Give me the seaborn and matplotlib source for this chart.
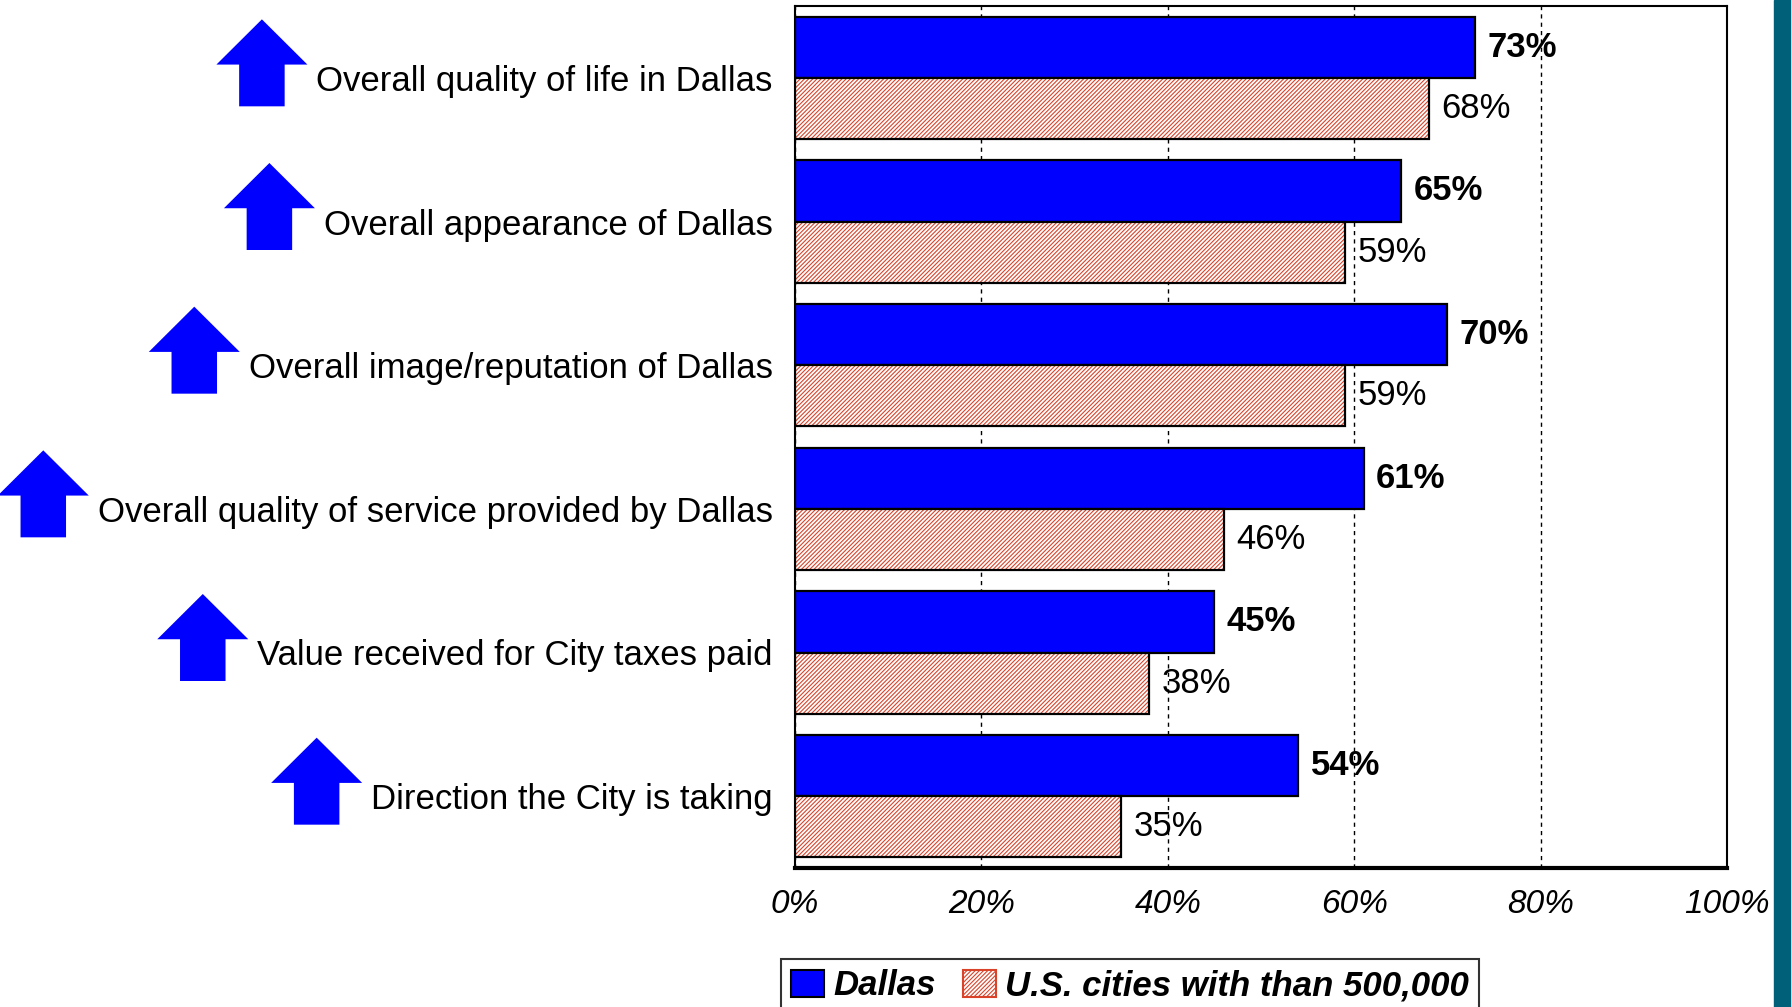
import numpy as np
import pandas as pd
import matplotlib
matplotlib.use("Agg")
import matplotlib.pyplot as plt
from matplotlib.patches import Polygon, Patch, Rectangle
import seaborn as sns

# Survey items and the share of favourable ratings (percent)
items = [
    "Overall quality of life in Dallas",
    "Overall appearance of Dallas",
    "Overall image/reputation of Dallas",
    "Overall quality of service provided by Dallas",
    "Value received for City taxes paid",
    "Direction the City is taking",
]
dallas = [73, 65, 70, 61, 45, 54]
us_large = [68, 59, 59, 46, 38, 35]
series = ["Dallas", "U.S. cities with than 500,000"]
x_ticks = [0, 20, 40, 60, 80, 100]

df = pd.DataFrame({
    "item": items * 2,
    "pct": dallas + us_large,
    "group": [series[0]] * len(items) + [series[1]] * len(items),
})

sns.set_theme(style="white")
plt.rcParams["font.family"] = ["Liberation Sans", "DejaVu Sans"]
plt.rcParams["hatch.linewidth"] = 0.8
for key in ("text.color", "xtick.color", "ytick.color", "axes.labelcolor"):
    plt.rcParams[key] = "black"

BLUE = "#0000ff"
HATCH = "#d8432a"
TEAL = "#005f79"
HATCH_PATTERN = "////////"

W, H = 1791, 1007
fig = plt.figure(figsize=(W / 100, H / 100), dpi=100)
fig.patch.set_facecolor("white")
ax = fig.add_axes([795 / W, 1 - 868 / H, (1727 - 795) / W, (868 - 6) / H])

sns.barplot(
    data=df, y="item", x="pct", hue="group", order=items, hue_order=series,
    palette=[BLUE, "white"], orient="h", width=0.85, edgecolor="black",
    linewidth=1.6, saturation=1, legend=False, ax=ax, zorder=2,
)

# Hatched comparison bars with a black outline
for p in ax.containers[1]:
    p.set_hatch(HATCH_PATTERN)
    if hasattr(p, "set_hatchcolor"):
        p.set_hatchcolor(HATCH)
    else:
        p.set_edgecolor(HATCH)
        p.set_linewidth(0)
        ax.add_patch(Rectangle(p.get_xy(), p.get_width(), p.get_height(),
                               fill=False, ec="black", lw=1.6, zorder=3))

ax.bar_label(ax.containers[0], labels=[f"{v}%" for v in dallas], padding=9,
             fontsize=25, fontweight="bold")
ax.bar_label(ax.containers[1], labels=[f"{v}%" for v in us_large], padding=9,
             fontsize=25)

ax.set_xlim(0, 100)
ax.set_xticks(x_ticks)
ax.set_xticklabels([f"{t}%" for t in x_ticks], fontsize=24, style="italic")
ax.tick_params(axis="x", length=0, pad=15)
ax.tick_params(axis="y", length=0, pad=16, labelsize=25)
ax.set_xlabel("")
ax.set_ylabel("")

ax.set_axisbelow(True)
ax.xaxis.grid(True, color="black", linestyle=(0, (3, 3)), linewidth=1)
ax.yaxis.grid(False)

for s in ax.spines.values():
    s.set_visible(True)
    s.set_color("black")
    s.set_linewidth(1.5)
ax.spines["bottom"].set_linewidth(3)

handles = [
    Patch(facecolor=BLUE, edgecolor="black", lw=1.5),
    Patch(facecolor="white", edgecolor=HATCH, hatch=HATCH_PATTERN, lw=1.5),
]
leg = fig.legend(
    handles, series, loc="upper left", bbox_to_anchor=(781 / W, 1 - 959 / H),
    ncol=2, frameon=True, fancybox=False, edgecolor="black",
    prop={"size": 25, "weight": "bold", "style": "italic"},
    handlelength=0.95, handleheight=0.85, handletextpad=0.25,
    columnspacing=0.8, borderpad=0.3, borderaxespad=0,
)
leg.get_frame().set_linewidth(1.5)

# Teal strip on the right edge
fig.add_artist(Rectangle((1774 / W, 0), 17 / W, 1, transform=fig.transFigure,
                         color=TEAL, zorder=0))

# Up arrows in front of each item label
fig.canvas.draw()
renderer = fig.canvas.get_renderer()
aw, ah = 91, 87
shape = np.array([
    (0.25, 0), (0.75, 0), (0.75, 0.48), (1, 0.48),
    (0.5, 1), (0, 0.48), (0.25, 0.48),
])
inv = fig.transFigure.inverted()
for i, lab in enumerate(ax.get_yticklabels()):
    bb = lab.get_window_extent(renderer)
    cy = ax.transData.transform((0, i))[1] + 15
    right = bb.x0 - 9
    pts = np.column_stack([right - aw + shape[:, 0] * aw,
                           cy - ah / 2 + shape[:, 1] * ah])
    fig.add_artist(Polygon(inv.transform(pts), closed=True,
                           transform=fig.transFigure, facecolor=BLUE,
                           edgecolor="none"))

fig.savefig("out.png", dpi=100)
